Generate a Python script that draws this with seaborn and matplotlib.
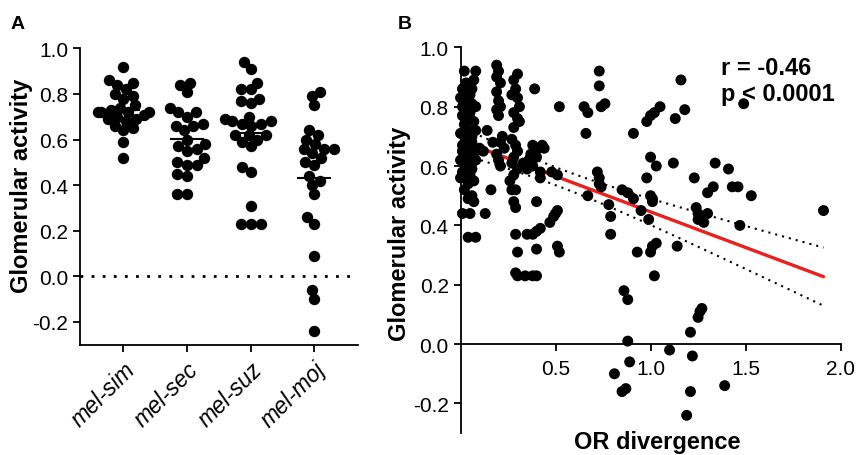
import numpy as np
import pandas as pd
import matplotlib
matplotlib.use("Agg")
import matplotlib.pyplot as plt
import seaborn as sns

# Panel A: glomerular activity per species pair
mel_sim = [0.92, 0.86, 0.85, 0.84, 0.82, 0.80, 0.79, 0.78, 0.75, 0.74, 0.73, 0.72, 0.72,
           0.72, 0.72, 0.71, 0.70, 0.69, 0.69, 0.68, 0.66, 0.65, 0.64, 0.59, 0.52]
mel_sec = [0.85, 0.84, 0.81, 0.74, 0.72, 0.72, 0.70, 0.67, 0.66, 0.66, 0.64, 0.60,
           0.58, 0.57, 0.56, 0.55, 0.52, 0.50, 0.49, 0.49, 0.45, 0.44, 0.36, 0.36]
mel_suz = [0.94, 0.91, 0.85, 0.82, 0.82, 0.78, 0.77, 0.76, 0.70, 0.69, 0.68, 0.68, 0.67, 0.67,
           0.66, 0.62, 0.62, 0.62, 0.60, 0.59, 0.57, 0.48, 0.46, 0.31, 0.23, 0.23, 0.23]
mel_moj = [0.81, 0.79, 0.75, 0.64, 0.62, 0.60, 0.58, 0.56, 0.56, 0.56, 0.54, 0.52,
           0.50, 0.49, 0.44, 0.42, 0.40, 0.36, 0.26, 0.23, 0.09, -0.06, -0.10, -0.24]
pair_labels = ["mel-sim", "mel-sec", "mel-suz", "mel-moj"]

# Panel B: OR divergence vs glomerular activity
or_div = [
    0.02, 0.08, 0.07, 0.01, 0.03, 0.05, 0.02, 0.04, 0.06, 0.01, 0.03, 0.05, 0.07, 0.02,
    0.04, 0.00, 0.06, 0.03, 0.01, 0.05, 0.08, 0.02, 0.04, 0.00, 0.06, 0.03, 0.01, 0.05,
    0.00, 0.07, 0.04, 0.02, 0.06, 0.04, 0.07, 0.01, 0.05, 0.04, 0.08,
    0.03, 0.06, 0.00, 0.08, 0.05, 0.01, 0.08, 0.06, 0.02, 0.08, 0.01, 0.06,
    0.14, 0.12, 0.17, 0.16, 0.13, 0.10,
    0.19, 0.20, 0.19, 0.21, 0.19, 0.20, 0.21, 0.19, 0.20, 0.22, 0.21, 0.23, 0.20, 0.21, 0.19,
    0.30, 0.28, 0.29, 0.27, 0.30, 0.31, 0.28, 0.30, 0.31, 0.28, 0.27, 0.29, 0.30, 0.28,
    0.27, 0.30, 0.28, 0.26, 0.27, 0.29, 0.28, 0.29,
    0.29, 0.30, 0.29, 0.30, 0.34, 0.38, 0.40,
    0.35, 0.38, 0.40, 0.42, 0.40, 0.40,
    0.33, 0.36, 0.38, 0.40, 0.41, 0.43, 0.44, 0.38, 0.42, 0.42, 0.37, 0.35, 0.39,
    0.52, 0.48, 0.51, 0.47, 0.49, 0.50, 0.51, 0.51, 0.52,
    0.65, 0.67, 0.66, 0.73, 0.73, 0.74, 0.76, 0.72, 0.73, 0.73, 0.74, 0.67, 0.78, 0.79, 0.79,
    0.85, 0.88, 0.91, 0.91, 0.95, 0.93, 0.86, 0.88, 0.88, 0.89, 0.81, 0.85, 0.87,
    0.98, 1.00, 1.02, 1.05, 1.00, 1.03, 0.98, 1.00, 1.01, 1.01, 0.99, 1.00, 1.01, 1.03,
    1.02, 1.10, 1.12, 1.13, 1.16, 1.18, 1.14,
    1.23, 1.24, 1.25, 1.27, 1.28, 1.30, 1.25, 1.21, 1.25, 1.26, 1.27, 1.22, 1.21, 1.19,
    1.30, 1.33, 1.34, 1.41, 1.43, 1.46, 1.47, 1.53, 1.49, 1.39, 1.91,
]
glom_act = [
    0.92, 0.92, 0.89, 0.86, 0.85, 0.84, 0.83, 0.82, 0.81, 0.80, 0.79, 0.78, 0.75, 0.74,
    0.72, 0.71, 0.70, 0.69, 0.67, 0.66, 0.65, 0.64, 0.63, 0.62, 0.61, 0.60, 0.58, 0.57,
    0.56, 0.55, 0.54, 0.52, 0.50, 0.49, 0.48, 0.44, 0.44, 0.36, 0.36,
    0.88, 0.86, 0.83, 0.80, 0.76, 0.77, 0.72, 0.68, 0.70, 0.62, 0.65, 0.59,
    0.72, 0.65, 0.68, 0.52, 0.44, 0.66,
    0.94, 0.92, 0.90, 0.88, 0.85, 0.82, 0.80, 0.79, 0.77, 0.70, 0.68, 0.66, 0.62, 0.60, 0.64,
    0.91, 0.89, 0.86, 0.84, 0.83, 0.80, 0.78, 0.76, 0.75, 0.73, 0.69, 0.67, 0.65, 0.63,
    0.61, 0.59, 0.57, 0.55, 0.52, 0.52, 0.48, 0.46,
    0.37, 0.31, 0.24, 0.23, 0.23, 0.23, 0.23,
    0.37, 0.37, 0.38, 0.39, 0.32, 0.48,
    0.61, 0.62, 0.60, 0.63, 0.66, 0.67, 0.66, 0.67, 0.58, 0.56, 0.64, 0.59, 0.86,
    0.80, 0.58, 0.57, 0.41, 0.43, 0.44, 0.45, 0.33, 0.31,
    0.80, 0.78, 0.71, 0.92, 0.87, 0.80, 0.81, 0.58, 0.56, 0.54, 0.53, 0.50, 0.47, 0.43, 0.37,
    0.52, 0.51, 0.49, 0.71, 0.45, 0.31, 0.18, 0.15, 0.01, -0.06, -0.10, -0.16, -0.15,
    0.75, 0.77, 0.78, 0.80, 0.63, 0.60, 0.56, 0.50, 0.49, 0.48, 0.42, 0.31, 0.33, 0.34,
    0.23, -0.02, 0.61, 0.76, 0.89, 0.79, 0.33,
    0.56, 0.46, 0.44, 0.43, 0.41, 0.44, 0.42, 0.04, 0.09, 0.11, 0.12, -0.04, -0.16, -0.24,
    0.51, 0.53, 0.61, 0.59, 0.53, 0.53, 0.40, 0.50, 0.81, -0.14, 0.45,
]

sns.set_theme(style="ticks")
plt.rcParams["font.family"] = ["Liberation Sans", "DejaVu Sans"]
plt.rcParams["axes.linewidth"] = 1.3
plt.rcParams["xtick.major.width"] = 1.3
plt.rcParams["ytick.major.width"] = 1.3
plt.rcParams["xtick.major.size"] = 5
plt.rcParams["ytick.major.size"] = 5
plt.rcParams["xtick.color"] = "black"
plt.rcParams["ytick.color"] = "black"
plt.rcParams["axes.edgecolor"] = "black"
plt.rcParams["axes.labelcolor"] = "black"
plt.rcParams["text.color"] = "black"

fig = plt.figure(figsize=(8.56, 4.56), dpi=100)
ax_a = fig.add_axes([0.0935, 0.2417, 0.325, 0.650])
ax_b = fig.add_axes([0.538, 0.048, 0.444, 0.846])

# ---- panel A ----
groups = [mel_sim, mel_sec, mel_suz, mel_moj]
df_a = pd.DataFrame({
    "pair": np.repeat(pair_labels, [len(g) for g in groups]),
    "activity": np.concatenate(groups),
})
ax_a.axhline(0, color="black", lw=2, linestyle=(0, (1, 3)), zorder=0)
sns.swarmplot(data=df_a, x="pair", y="activity", order=pair_labels, color="black",
              size=6.8, ax=ax_a, zorder=2, warn_thresh=1)
sns.pointplot(data=df_a, x="pair", y="activity", order=pair_labels, estimator="mean",
              errorbar=None, color="black", markers="_", linestyles="none",
              markersize=25, markeredgewidth=1.5, ax=ax_a, zorder=1)
ax_a.set_xlim(-0.68, 3.69)
ax_a.set_ylim(-0.3, 1.0)

# lay out the swarm compactly, then enlarge dots so they overlap like the original
fig.canvas.draw()
for coll in ax_a.collections:
    if "draw" in coll.__dict__:
        del coll.draw
        coll.set_sizes([8.2 ** 2])

ax_a.set_yticks([-0.2, 0.0, 0.2, 0.4, 0.6, 0.8, 1.0])
ax_a.set_yticklabels(["-0.2", "0.0", "0.2", "0.4", "0.6", "0.8", "1.0"])
ax_a.set_xlabel("")
ax_a.set_ylabel("Glomerular activity", fontsize=17, fontweight="bold")
ax_a.yaxis.set_label_coords(-0.168, 0.54)
ax_a.tick_params(axis="y", labelsize=15)
ax_a.set_xticks(range(4))
ax_a.set_xticklabels(pair_labels, rotation=45, ha="right", rotation_mode="anchor",
                     fontsize=16.5, style="italic")
ax_a.tick_params(axis="x", pad=4)
sns.despine(ax=ax_a)

# ---- panel B ----
x = np.array(or_div)
y = np.array(glom_act)
n = len(x)
slope, intercept = np.polyfit(x, y, 1)
resid = y - (slope * x + intercept)
s_err = np.sqrt(np.sum(resid ** 2) / (n - 2))
sxx = np.sum((x - x.mean()) ** 2)
xf = np.linspace(x.min(), x.max(), 100)
yf = slope * xf + intercept
half = 1.97 * s_err * np.sqrt(1.0 / n + (xf - x.mean()) ** 2 / sxx)

ax_b.plot(xf, yf, color="#e8201f", lw=2.4, zorder=1)
ax_b.plot(xf, yf + half, color="black", lw=1.5, linestyle=(0, (1, 2.4)), zorder=1)
ax_b.plot(xf, yf - half, color="black", lw=1.5, linestyle=(0, (1, 2.4)), zorder=1)
sns.scatterplot(x=x, y=y, color="black", s=62, edgecolor="none", ax=ax_b, zorder=3,
                clip_on=False)
ax_b.set_xlim(0, 2.0)
ax_b.set_ylim(-0.3, 1.0)
ax_b.spines["bottom"].set_position(("data", 0))
ax_b.set_xticks([0.5, 1.0, 1.5, 2.0])
ax_b.set_xticklabels(["0.5", "1.0", "1.5", "2.0"])
ax_b.set_yticks([-0.2, 0.0, 0.2, 0.4, 0.6, 0.8, 1.0])
ax_b.set_yticklabels(["-0.2", "0.0", "0.2", "0.4", "0.6", "0.8", "1.0"])
ax_b.tick_params(labelsize=15)
ax_b.tick_params(axis="x", pad=6)
ax_b.set_ylabel("Glomerular activity", fontsize=17, fontweight="bold")
ax_b.yaxis.set_label_coords(-0.13, 0.52)
ax_b.set_xlabel("")
sns.despine(ax=ax_b)
fig.text(0.768, 0.005, "OR divergence", fontsize=17, fontweight="bold",
         ha="center", va="bottom")
ax_b.text(0.686, 0.978, "r = -0.46\np < 0.0001", transform=ax_b.transAxes,
          fontsize=17, fontweight="bold", va="top", ha="left", linespacing=1.15)

fig.text(0.012, 0.965, "A", fontsize=14, fontweight="bold", va="top")
fig.text(0.465, 0.965, "B", fontsize=14, fontweight="bold", va="top")

fig.savefig("out.png", dpi=100)
